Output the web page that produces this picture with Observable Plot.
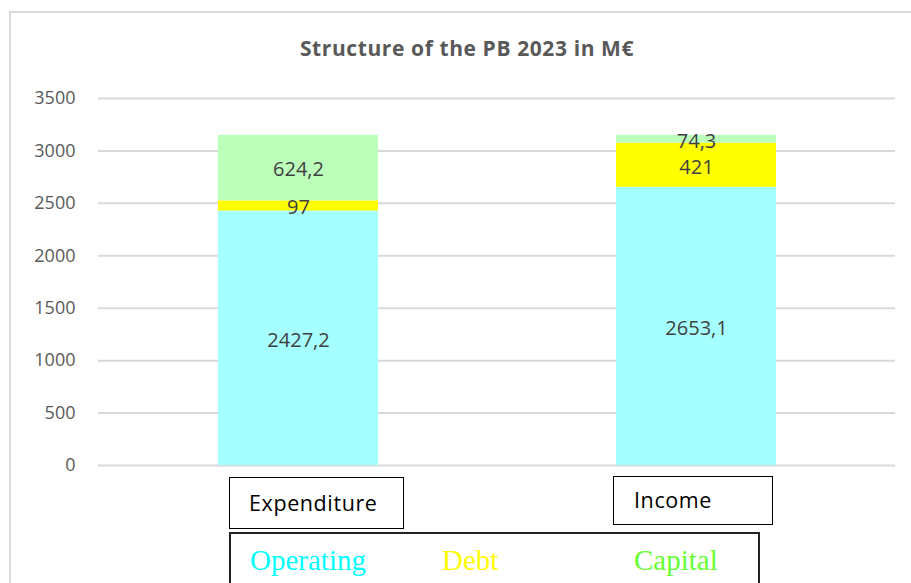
<!DOCTYPE html>
<html>
<head>
<meta charset="utf-8">
<script src="https://cdn.jsdelivr.net/npm/d3@7"></script>
<script src="https://cdn.jsdelivr.net/npm/@observablehq/plot@0.6"></script>
<style>
  html, body { margin: 0; padding: 0; background: #fff; }
  body { width: 911px; height: 583px; overflow: hidden; position: relative; font-family: "Open Sans", sans-serif; }
  #frame { position: absolute; left: 9px; top: 11px; width: 1200px; height: 1200px; border-left: 2px solid #d9d9d9; border-top: 2px solid #d9d9d9; }
  #title { position: absolute; left: 0; width: 934px; top: 34px; text-align: center; font-family: "Open Sans", sans-serif; font-weight: bold; font-size: 21px; color: #595959; letter-spacing: 0.6px; }
  #chart { position: absolute; left: 0; top: 0; }
  .cat { position: absolute; box-sizing: border-box; border: 1.5px solid #000; font-family: "Open Sans", sans-serif; font-size: 21.5px; color: #000; letter-spacing: 0.6px; }
  #legend { position: absolute; left: 229px; top: 532px; width: 531px; height: 80px; box-sizing: border-box; border: 2px solid #222; }
  .leg { position: absolute; top: 544px; font-family: "Liberation Serif", "Times New Roman", serif; font-size: 29px; }
</style>
</head>
<body>
<div id="frame"></div>
<div id="chart"></div>
<div id="title"></div>
<div id="cats"></div>
<div id="legend"></div>
<div id="legtext"></div>
<script>
const title = "Structure of the PB 2023 in M€";
const categories = ["Expenditure", "Income"];
const seriesNames = ["Operating", "Debt", "Capital"];
const seriesColors = ["#a6ffff", "#ffff00", "#bbffbb"];
const legendColors = ["#00ffff", "#ffff00", "#66ff33"];
const operating = [2427.2, 2653.1];
const debt = [97, 421];
const capital = [624.2, 74.3];
const yTicks = [0, 500, 1000, 1500, 2000, 2500, 3000, 3500];

const seriesValues = [operating, debt, capital];
const data = [];
seriesNames.forEach((s, i) => {
  categories.forEach((c, j) => {
    data.push({category: c, series: s, value: seriesValues[i][j], order: i});
  });
});
const fmt = v => String(v).replace(".", ",");

document.getElementById("title").textContent = title;

const plot = Plot.plot({
  width: 911,
  height: 583,
  marginTop: 98,
  marginBottom: 118,
  marginLeft: 98,
  marginRight: 16,
  style: {fontFamily: "Open Sans, sans-serif", background: "transparent"},
  x: {domain: categories, padding: 0, axis: null},
  y: {domain: [0, 3500], ticks: yTicks, label: null},
  color: {domain: seriesNames, range: seriesColors},
  marks: [
    Plot.gridY(yTicks, {stroke: "#d9d9d9", strokeOpacity: 1, strokeWidth: 2}),
    Plot.axisY(yTicks, {tickSize: 0, tickPadding: 23, fontSize: 18, fill: "#595959", label: null, tickFormat: d => String(d), style: {letterSpacing: "1.5px"}}),
    Plot.barY(data, Plot.stackY({x: "category", y: "value", fill: "series", order: "order", insetLeft: 119, insetRight: 119})),
    Plot.text(data, Plot.stackY({x: "category", y: "value", order: "order", text: d => fmt(d.value), fontSize: 20, fill: "#404040", dy: 2, style: {letterSpacing: "1.2px"}}))
  ]
});
document.getElementById("chart").appendChild(plot);

// category labels (boxed, as in the reference)
const catBoxes = [
  {left: 229, top: 477, width: 175, height: 52, pad: 19},
  {left: 613, top: 476, width: 160, height: 49, pad: 20}
];
const catsDiv = document.getElementById("cats");
categories.forEach((c, i) => {
  const b = catBoxes[i];
  const el = document.createElement("div");
  el.className = "cat";
  Object.assign(el.style, {left: b.left + "px", top: b.top + "px", width: b.width + "px", height: b.height + "px", paddingLeft: b.pad + "px", lineHeight: (b.height - 3) + "px"});
  el.textContent = c;
  catsDiv.appendChild(el);
});

// legend text
const legLeft = [250, 442, 634];
const legDiv = document.getElementById("legtext");
seriesNames.forEach((s, i) => {
  const el = document.createElement("div");
  el.className = "leg";
  el.style.left = legLeft[i] + "px";
  el.style.color = legendColors[i];
  el.textContent = s;
  legDiv.appendChild(el);
});
</script>
</body>
</html>
